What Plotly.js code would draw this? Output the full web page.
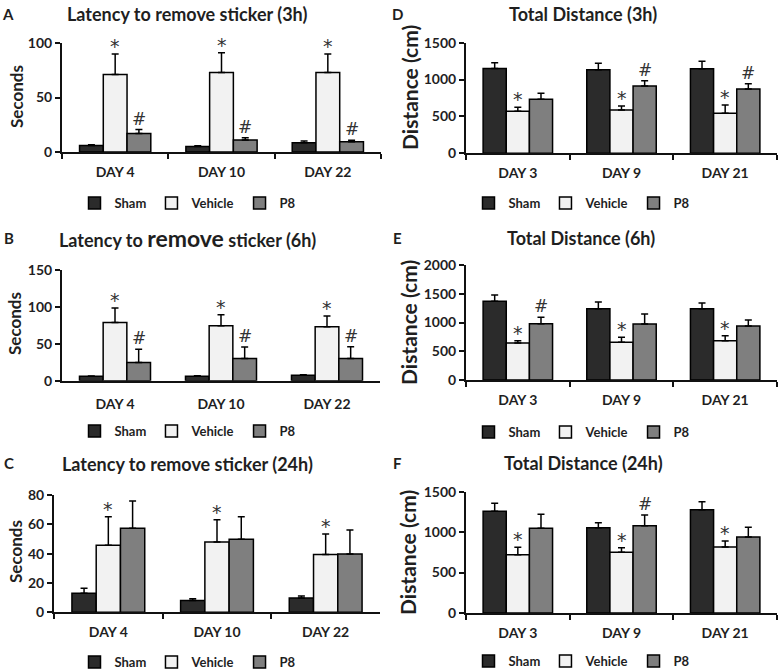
<!DOCTYPE html>
<html>
<head>
<meta charset="utf-8">
<script src="https://cdn.plot.ly/plotly-3.0.1.min.js"></script>
<style>html,body{margin:0;padding:0;background:#fff}#chart{width:780px;height:672px}</style>
</head>
<body>
<div id="chart"></div>
<script>
// ---------- data ----------
const groups = ['Sham', 'Vehicle', 'P8'];
const daysLatency = ['DAY 4', 'DAY 10', 'DAY 22'];
const daysDistance = ['DAY 3', 'DAY 9', 'DAY 21'];

// A: Latency to remove sticker (3h)
const shamA = [6, 5, 8.5],        shamAErr = [0.7, 0.7, 1.5];
const vehA = [71, 73, 73],        vehAErr = [19, 18, 17];
const p8A = [17, 11, 9.5],        p8AErr = [3.6, 2, 1.2];
const vehMarkA = ['*', '*', '*'], p8MarkA = ['#', '#', '#'];

// B: Latency to remove sticker (6h)
const shamB = [6, 6, 7.5],        shamBErr = [0.5, 0.7, 0.5];
const vehB = [79, 74.5, 73],      vehBErr = [19.5, 15, 14.5];
const p8B = [24.5, 30, 30],       p8BErr = [18, 15.5, 16];
const vehMarkB = ['*', '*', '*'], p8MarkB = ['#', '#', '#'];

// C: Latency to remove sticker (24h)
const shamC = [13, 8, 9.8],       shamCErr = [3.4, 1.2, 1.3];
const vehC = [45.7, 48, 39.5],    vehCErr = [19.5, 15.2, 13.9];
const p8C = [57.3, 49.8, 39.8],   p8CErr = [18.6, 15.4, 16.3];
const vehMarkC = ['*', '*', '*'], p8MarkC = ['', '', ''];

// D: Total Distance (3h)
const shamD = [1150, 1134, 1148], shamDErr = [78, 87, 100];
const vehD = [570, 588, 543],     vehDErr = [54, 54, 112];
const p8D = [733, 913, 872],      p8DErr = [81, 72, 72];
const vehMarkD = ['*', '*', '*'], p8MarkD = ['', '#', '#'];

// E: Total Distance (6h)
const shamE = [1370, 1240, 1240], shamEErr = [110, 117, 99];
const vehE = [643, 655, 684],     vehEErr = [41, 87, 87];
const p8E = [980, 974, 939],      p8EErr = [110, 174, 104];
const vehMarkE = ['*', '*', '*'], p8MarkE = ['#', '', ''];

// F: Total Distance (24h)
const shamF = [1257, 1055, 1278], shamFErr = [99, 62, 98];
const vehF = [721, 750, 816],     vehFErr = [91, 58, 74];
const p8F = [1047, 1080, 940],    p8FErr = [173, 132, 119];
const vehMarkF = ['*', '*', '*'], p8MarkF = ['', '#', ''];

// ---------- styling ----------
const FONT = 'Lato, "Open Sans", sans-serif';
const TXT = '#1f1f1f';
const colors = ['#2b2b2b', '#f2f2f2', '#7f7f7f'];
const W = 780, H = 672;
const BARGAP = 0.33;

const panels = [
  {id: 'A', cats: daysLatency, data: [[shamA, shamAErr], [vehA, vehAErr], [p8A, p8AErr]], marks: [vehMarkA, p8MarkA],
   title: 'Latency to remove sticker (3h)', ytitle: 'Seconds', ytSize: 17, range: [0, 100], dtick: 50, xticks: true,
   px: [62, 381], py: [43, 152], titleXY: [187, 14], letterXY: [8, 14], ytXY: [16, 97], legXY: [188, 203]},
  {id: 'B', cats: daysLatency, data: [[shamB, shamBErr], [vehB, vehBErr], [p8B, p8BErr]], marks: [vehMarkB, p8MarkB],
   title: 'Latency to <span style="font-size:23px">remove</span> sticker (6h)', ytitle: 'Seconds', ytSize: 17, range: [0, 150], dtick: 50, xticks: false,
   px: [62, 380], py: [270, 380.7], titleXY: [187, 238], letterXY: [9, 238], ytXY: [14, 324], legXY: [188, 431]},
  {id: 'C', cats: daysLatency, data: [[shamC, shamCErr], [vehC, vehCErr], [p8C, p8CErr]], marks: [vehMarkC, p8MarkC],
   title: 'Latency to remove sticker (24h)', ytitle: 'Seconds', ytSize: 17, range: [0, 80], dtick: 20, xticks: true,
   px: [54, 380], py: [495, 612.3], titleXY: [187, 464], letterXY: [9, 463], ytXY: [15, 552], legXY: [188, 662]},
  {id: 'D', cats: daysDistance, data: [[shamD, shamDErr], [vehD, vehDErr], [p8D, p8DErr]], marks: [vehMarkD, p8MarkD],
   title: 'Total Distance (3h)', ytitle: 'Distance (cm)', ytSize: 21, range: [0, 1500], dtick: 500, xticks: true,
   px: [466, 777], py: [42.7, 153.3], titleXY: [583, 14], letterXY: [397, 14], ytXY: [410, 88], legXY: [582, 203]},
  {id: 'E', cats: daysDistance, data: [[shamE, shamEErr], [vehE, vehEErr], [p8E, p8EErr]], marks: [vehMarkE, p8MarkE],
   title: 'Total Distance (6h)', ytitle: 'Distance (cm)', ytSize: 21, range: [0, 2000], dtick: 500, xticks: true,
   px: [466, 777], py: [265, 380], titleXY: [581, 238], letterXY: [397, 238], ytXY: [408, 323], legXY: [582, 432]},
  {id: 'F', cats: daysDistance, data: [[shamF, shamFErr], [vehF, vehFErr], [p8F, p8FErr]], marks: [vehMarkF, p8MarkF],
   title: 'Total Distance (24h)', ytitle: 'Distance (cm)', ytSize: 21, range: [0, 1500], dtick: 500, xticks: true,
   px: [466, 777], py: [491.7, 613], titleXY: [583, 463], letterXY: [397, 463], ytXY: [407, 553], legXY: [582, 661]}
];

const traces = [];
const annotations = [];
const layout = {
  width: W, height: H,
  margin: {l: 0, r: 0, t: 0, b: 0, autoexpand: false},
  paper_bgcolor: '#fff', plot_bgcolor: '#fff',
  barmode: 'group', bargap: BARGAP, bargroupgap: 0,
  font: {family: FONT, color: TXT, weight: 'bold'},
  showlegend: true,
  annotations: annotations
};

panels.forEach((p, k) => {
  const n = k + 1;
  const xa = n === 1 ? 'x' : 'x' + n;
  const ya = n === 1 ? 'y' : 'y' + n;
  const legName = n === 1 ? 'legend' : 'legend' + n;

  p.data.forEach((d, g) => {
    traces.push({
      type: 'bar', name: groups[g], x: p.cats, y: d[0],
      xaxis: xa, yaxis: ya, legend: legName,
      marker: {color: colors[g], line: {color: '#000', width: 1.5}},
      error_y: {type: 'data', array: d[1], arrayminus: d[1].map(() => 0), symmetric: false,
                color: '#000', thickness: 1.5, width: 3.5},
      hoverinfo: 'skip'
    });
  });

  const xDom = [p.px[0] / W, p.px[1] / W];
  const yDom = [1 - p.py[1] / H, 1 - p.py[0] / H];
  layout['xaxis' + (n === 1 ? '' : n)] = {
    domain: xDom, anchor: ya, type: 'category', automargin: false,
    showline: true, linecolor: '#111', linewidth: 2,
    ticks: p.xticks ? 'outside' : '', tickson: 'boundaries', ticklen: 5, tickwidth: 2, tickcolor: '#111',
    ticklabelstandoff: p.xticks ? 6 : 9,
    showgrid: false, zeroline: false,
    tickfont: {family: FONT, size: 14, color: TXT, weight: 'bold'},
    fixedrange: true
  };
  layout['yaxis' + (n === 1 ? '' : n)] = {
    domain: yDom, anchor: xa, range: p.range, dtick: p.dtick, automargin: false,
    showline: true, linecolor: '#111', linewidth: 2,
    ticks: 'outside', ticklen: 5, tickwidth: 2, tickcolor: '#111',
    showgrid: false, zeroline: false,
    tickfont: {family: FONT, size: 14, color: TXT, weight: 'bold'},
    fixedrange: true
  };
  layout[legName] = {
    orientation: 'h', x: p.legXY[0] / W, xanchor: 'center',
    y: 1 - p.legXY[1] / H, yanchor: 'middle',
    font: {family: FONT, size: 13, color: TXT, weight: 'bold'},
    bgcolor: 'rgba(0,0,0,0)', traceorder: 'normal', itemclick: false, itemdoubleclick: false
  };

  // significance marks: vehicle (centre of group) and P8 (right bar)
  const barW = (1 - BARGAP) / 3;
  const markSeries = [[p.data[1], p.marks[0], 0], [p.data[2], p.marks[1], barW]];
  markSeries.forEach(([d, marks, off]) => {
    marks.forEach((m, i) => {
      if (!m) return;
      annotations.push({
        xref: xa, yref: ya, x: i + off, y: d[0][i] + d[1][i],
        text: m, showarrow: false, xanchor: 'center', yanchor: 'bottom',
        yshift: m === '*' ? -5 : -1,
        font: {family: '"DejaVu Sans", sans-serif', size: m === '*' ? 19 : 17, color: '#333333', weight: 'normal'}
      });
    });
  });

  // panel title, letter, y-axis title
  annotations.push({xref: 'paper', yref: 'paper', x: p.titleXY[0] / W, y: 1 - p.titleXY[1] / H,
    text: p.title, showarrow: false, xanchor: 'center', yanchor: 'middle',
    font: {family: FONT, size: 18, color: TXT, weight: 'bold'}});
  annotations.push({xref: 'paper', yref: 'paper', x: p.letterXY[0] / W, y: 1 - p.letterXY[1] / H,
    text: p.id, showarrow: false, xanchor: 'center', yanchor: 'middle',
    font: {family: FONT, size: 15, color: TXT, weight: 'bold'}});
  annotations.push({xref: 'paper', yref: 'paper', x: p.ytXY[0] / W, y: 1 - p.ytXY[1] / H,
    text: p.ytitle, showarrow: false, xanchor: 'center', yanchor: 'middle', textangle: -90,
    font: {family: FONT, size: p.ytSize, color: TXT, weight: 'bold'}});
});

Plotly.newPlot('chart', traces, layout, {displayModeBar: false, staticPlot: true});
</script>
</body>
</html>
